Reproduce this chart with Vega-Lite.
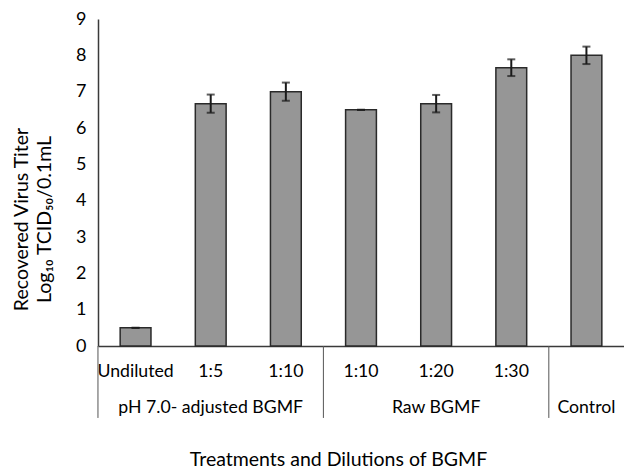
{
  "$schema": "https://vega.github.io/schema/vega-lite/v6.json",
  "width": 526,
  "height": 327,
  "autosize": "none",
  "padding": {"left": 98, "top": 19, "right": 0, "bottom": 130},
  "background": "white",
  "config": {
    "font": "Lato",
    "view": {"stroke": null},
    "axisY": {"labelOverlap": false, "labelFontSize": 18, "tickCount": 10}
  },
  "datasets": {
    "bars": [
      {"id": "a", "dilution": "Undiluted", "group": "pH 7.0- adjusted BGMF", "titer": 0.5, "err": 0},
      {"id": "b", "dilution": "1:5", "group": "pH 7.0- adjusted BGMF", "titer": 6.67, "err": 0.25},
      {"id": "c", "dilution": "1:10", "group": "pH 7.0- adjusted BGMF", "titer": 7.0, "err": 0.25},
      {"id": "d", "dilution": "1:10", "group": "Raw BGMF", "titer": 6.5, "err": 0},
      {"id": "e", "dilution": "1:20", "group": "Raw BGMF", "titer": 6.67, "err": 0.24},
      {"id": "f", "dilution": "1:30", "group": "Raw BGMF", "titer": 7.66, "err": 0.23},
      {"id": "g", "dilution": "", "group": "Control", "titer": 8.0, "err": 0.24}
    ],
    "groups": [
      {"group": "pH 7.0- adjusted BGMF", "first": "a", "middle": "b"},
      {"group": "Raw BGMF", "first": "d", "middle": "e"},
      {"group": "Control", "first": "g", "middle": "g"}
    ]
  },
  "layer": [
    {
      "data": {"name": "bars"},
      "mark": {"type": "bar", "fill": "#969696", "stroke": "#2a2a2a", "strokeWidth": 1.5},
      "encoding": {
        "x": {
          "field": "id", "type": "nominal", "sort": null,
          "scale": {"type": "band", "domain": ["a", "b", "c", "d", "e", "f", "g"], "paddingInner": 0.59, "paddingOuter": 0.295},
          "title": "Treatments and Dilutions of BGMF",
          "axis": {
            "labelExpr": "{'a':'Undiluted','b':'1:5','c':'1:10','d':'1:10','e':'1:20','f':'1:30','g':''}[datum.value]",
            "labelAngle": 0, "ticks": false, "domainColor": "#3a3a3a", "domainWidth": 1.5,
            "labelFontSize": 17.7, "labelColor": "#000", "labelPadding": 16,
            "titleFontSize": 19.5, "titleFontWeight": "normal", "titleColor": "#000",
            "titleX": 240, "titleY": 104, "titleBaseline": "top"
          }
        },
        "y": {
          "field": "titer", "type": "quantitative",
          "scale": {"domain": [0, 9], "nice": false},
          "title": ["Recovered Virus Titer", "Log₁₀ TCID₅₀/0.1mL"],
          "axis": {
            "values": [0, 1, 2, 3, 4, 5, 6, 7, 8, 9], "labelOverlap": false, "ticks": false, "grid": false,
            "domainColor": "#3a3a3a", "domainWidth": 1.5,
            "labelFontSize": 18, "labelColor": "#000", "labelPadding": 12,
            "titleFontSize": 19.5, "titleFontWeight": "normal", "titleColor": "#000",
            "titleX": -86, "titleY": 200, "titleBaseline": "top", "titleLineHeight": 23, "titleAngle": -90
          }
        }
      }
    },
    {
      "data": {"name": "bars"},
      "mark": {"type": "errorbar", "color": "#1a1a1a", "thickness": 2, "ticks": {"size": 8, "thickness": 2, "color": "#1a1a1a"}},
      "encoding": {
        "x": {"field": "id", "type": "nominal", "sort": null, "title": "Treatments and Dilutions of BGMF"},
        "y": {
          "field": "titer", "type": "quantitative",
          "title": ["Recovered Virus Titer", "Log₁₀ TCID₅₀/0.1mL"],
          "axis": {
            "values": [0, 1, 2, 3, 4, 5, 6, 7, 8, 9], "labelOverlap": false, "ticks": false, "grid": false,
            "domainColor": "#3a3a3a", "domainWidth": 1.5,
            "labelFontSize": 18, "labelColor": "#000", "labelPadding": 12,
            "titleFontSize": 19.5, "titleFontWeight": "normal", "titleColor": "#000",
            "titleX": -86, "titleY": 200, "titleBaseline": "top", "titleLineHeight": 23, "titleAngle": -90
          }
        },
        "yError": {"field": "err"}
      }
    },
    {
      "mark": {"type": "rule", "color": "#3a3a3a", "strokeWidth": 1.5},
      "encoding": {"y": {"datum": 9}}
    },
    {
      "data": {"name": "groups"},
      "mark": {"type": "rule", "color": "#555555", "strokeWidth": 1, "xOffset": -22.2},
      "encoding": {
        "x": {"field": "first", "type": "nominal", "sort": null, "bandPosition": 0, "title": "Treatments and Dilutions of BGMF"},
        "y": {"datum": 0},
        "y2": {"datum": -1.98}
      }
    },
    {
      "data": {"name": "groups"},
      "mark": {"type": "text", "fontSize": 17.7, "color": "#000", "baseline": "middle"},
      "encoding": {
        "x": {"field": "middle", "type": "nominal", "sort": null, "title": "Treatments and Dilutions of BGMF"},
        "y": {"datum": -1.7},
        "text": {"field": "group"}
      }
    }
  ]
}
